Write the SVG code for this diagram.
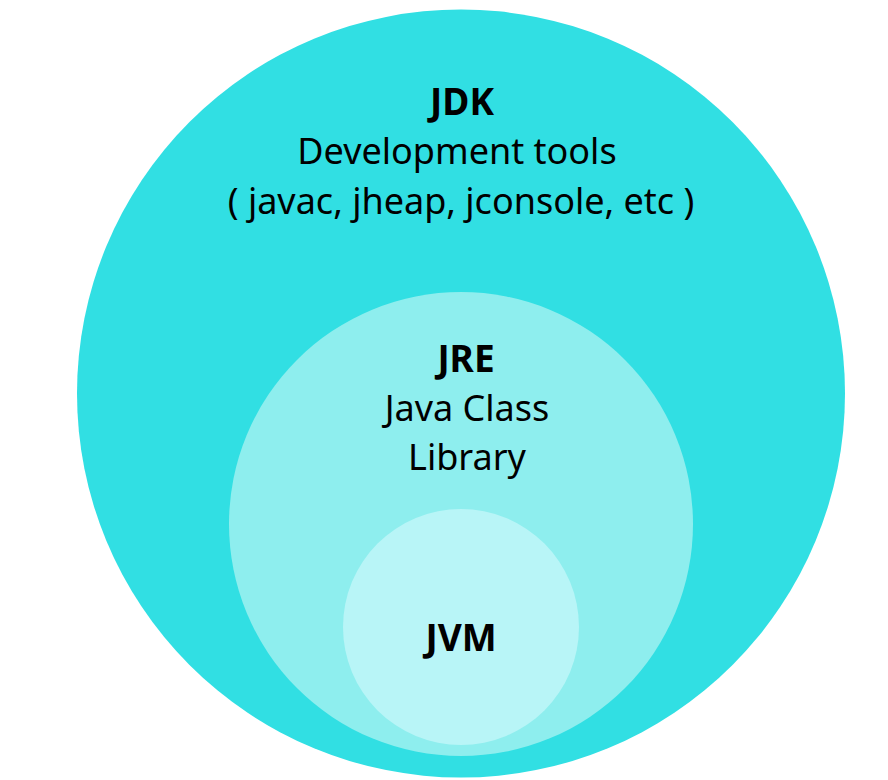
<svg xmlns="http://www.w3.org/2000/svg" width="888" height="780" viewBox="0 0 888 780">
<style>
text{font-family:"Noto Sans","Open Sans","DejaVu Sans",sans-serif;fill:#000;text-anchor:middle;font-size:36px}
.b{font-weight:bold;font-size:37px}
</style>
<rect width="888" height="780" fill="#fff"/>
<g id="jdk">
<circle cx="461" cy="393.5" r="384" fill="#31DFE3"/>
<text class="b" x="462" y="115">JDK</text>
<text x="457" y="164">Development tools</text>
<text x="461" y="214">( javac, jheap, jconsole, etc )</text>
</g>
<g id="jre">
<circle cx="461" cy="524" r="232" fill="#8EEEEE"/>
<text class="b" x="466" y="372">JRE</text>
<text x="467" y="421">Java Class</text>
<text x="467" y="470">Library</text>
</g>
<g id="jvm">
<circle cx="461" cy="627" r="118" fill="#B8F5F7"/>
<text class="b" x="461" y="651">JVM</text>
</g>
<g id="connectors"/>
</svg>
